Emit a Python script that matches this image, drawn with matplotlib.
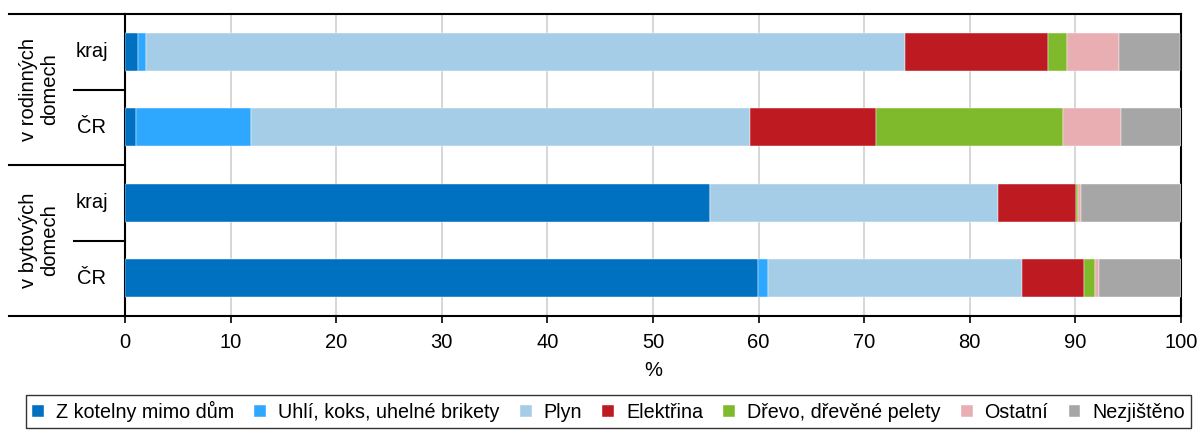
import numpy as np
import matplotlib.pyplot as plt
from matplotlib.lines import Line2D

plt.rcParams['font.family'] = ['Liberation Sans', 'DejaVu Sans']

# radky odspodu nahoru: bytove CR, bytove kraj, rodinne CR, rodinne kraj
radky = ['ČR', 'kraj', 'ČR', 'kraj']
skupiny = ['v bytových\ndomech', 'v rodinných\ndomech']

kategorie = ['Z kotelny mimo dům', 'Uhlí, koks, uhelné brikety', 'Plyn', 'Elektřina',
             'Dřevo, dřevěné pelety', 'Ostatní', 'Nezjištěno']
barvy = ['#0070C0', '#2EA8FF', '#A6CDE7', '#BE1A21', '#7FBA2C', '#E8AEB1', '#A6A6A6']

kotelna = [59.9, 55.4, 1.0, 1.2]
uhli = [1.0, 0.0, 10.9, 0.8]
plyn = [24.0, 27.3, 47.3, 71.85]
elektrina = [5.9, 7.4, 11.9, 13.6]
drevo = [1.1, 0.1, 17.7, 1.8]
ostatni = [0.3, 0.3, 5.5, 4.9]
nezjisteno = [7.8, 9.5, 5.7, 5.8]

data = [kotelna, uhli, plyn, elektrina, drevo, ostatni, nezjisteno]
fs = 14.5

fig = plt.figure(figsize=(11.98, 4.30), dpi=100)
ax = fig.add_axes([125/1198, 1-316/430, 1056/1198, 302/430])

y = np.arange(len(radky))
left = np.zeros(len(radky))
for vals, nazev, c in zip(data, kategorie, barvy):
    ax.barh(y, vals, left=left, height=0.5, color=c, label=nazev,
            edgecolor='white', linewidth=0.3, zorder=3)
    left += np.array(vals)

ax.set_xlim(0, 100)
ax.set_ylim(-0.5, 3.5)
ax.set_xticks(range(0, 101, 10))
ax.grid(axis='x', color='#D0D0D0', linewidth=1.2, zorder=0)
ax.set_yticks([])
ax.tick_params(axis='x', labelsize=fs, length=5, width=1.2, pad=7)
ax.set_xlabel('%', fontsize=fs, labelpad=7)
for s in ['left', 'bottom', 'right', 'top']:
    ax.spines[s].set_linewidth(1.5)
    ax.spines[s].set_color('black')

tr = ax.get_yaxis_transform()
# popisky radku
for yi, lab in zip(y, radky):
    ax.text(-33/1056, yi, lab, transform=tr, ha='center', va='center', fontsize=fs)
# popisky skupin
for yc, lab in zip([0.5, 2.5], skupiny):
    ax.text(-86/1056, yc, lab, transform=tr, ha='center', va='center',
            rotation=90, fontsize=fs, linespacing=1.12)
# cary v leve casti
for yl in [-0.5, 1.5, 3.5]:
    ax.add_line(Line2D([-116/1056, 0], [yl, yl], transform=tr, color='black',
                       linewidth=1.5, clip_on=False))
for yl in [0.5, 2.5]:
    ax.add_line(Line2D([-51/1056, 0], [yl, yl], transform=tr, color='black',
                       linewidth=1.5, clip_on=False))

leg = fig.legend(loc='lower center', bbox_to_anchor=(0.508, -0.018), ncol=7,
                 fontsize=14.2, frameon=True, fancybox=False, edgecolor='black',
                 handlelength=0.6, handleheight=0.6, handletextpad=0.6,
                 columnspacing=1.03, borderpad=0.3)
leg.get_frame().set_linewidth(1.0)

plt.savefig('out.png', dpi=100)
